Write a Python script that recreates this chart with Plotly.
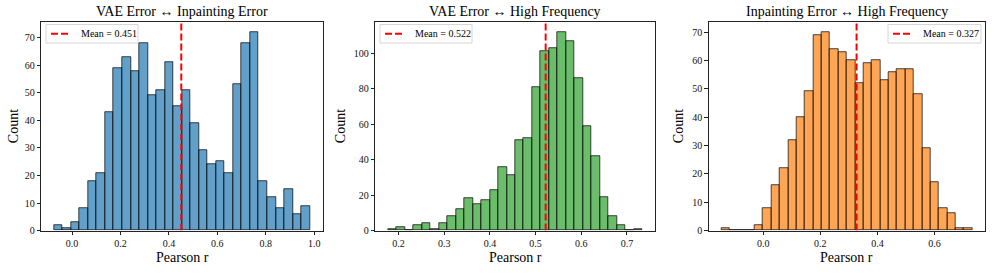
import plotly.graph_objects as go

# ---------------- data ----------------
titles = ["VAE Error \u2194 Inpainting Error",
          "VAE Error \u2194 High Frequency",
          "Inpainting Error \u2194 High Frequency"]

vae_inp_counts = [2, 1, 3, 8, 18, 21, 43, 59, 63, 58, 68, 49, 51, 61, 45,
                  51, 39, 29, 24, 25, 21, 53, 68, 72, 18, 12, 8, 15, 6, 9]
vae_inp_start = -0.074
vae_inp_binwidth = 0.0352
vae_inp_mean = 0.451

vae_hf_counts = [1, 2, 0, 3, 4, 1, 4, 8, 12, 18, 15, 17, 23, 36, 31,
                 51, 52, 81, 101, 103, 112, 107, 86, 59, 42, 19, 8, 3, 0, 1]
vae_hf_start = 0.177
vae_hf_binwidth = 0.01857
vae_hf_mean = 0.522

inp_hf_counts = [1, 0, 0, 0, 2, 8, 16, 22, 32, 40, 49, 69, 70, 64, 63,
                 60, 52, 59, 60, 53, 56, 57, 57, 48, 29, 17, 8, 6, 1, 1]
inp_hf_start = -0.147
inp_hf_binwidth = 0.02933
inp_hf_mean = 0.327

x_tickvals = [[0.0, 0.2, 0.4, 0.6, 0.8, 1.0],
              [0.2, 0.3, 0.4, 0.5, 0.6, 0.7],
              [0.0, 0.2, 0.4, 0.6]]
y_tickvals = [[0, 10, 20, 30, 40, 50, 60, 70],
              [0, 20, 40, 60, 80, 100],
              [0, 10, 20, 30, 40, 50, 60, 70]]

# ---------------- styling ----------------
W, H = 996, 277
FONT = "Liberation Serif"
fills = ["rgba(31,119,180,0.7)", "rgba(44,160,44,0.7)", "rgba(255,127,14,0.7)"]
edge = "rgba(0,0,0,0.7)"
DASH = "7px,3px"

# plot areas in pixels (left, right)
px_x = [(41.3, 322.7), (375.3, 655.3), (708.7, 985.0)]
px_top, px_bottom = 22.7, 235.7

# legend boxes in pixels (left, right, top, bottom)
legend_boxes = [(46, 138, 25, 44), (380, 472, 25, 44), (888, 981, 25, 44)]

panels = [
    (vae_inp_counts, vae_inp_start, vae_inp_binwidth, vae_inp_mean),
    (vae_hf_counts, vae_hf_start, vae_hf_binwidth, vae_hf_mean),
    (inp_hf_counts, inp_hf_start, inp_hf_binwidth, inp_hf_mean),
]

fig = go.Figure()
annotations = []
shapes = []


def px(xp):
    return xp / W


def py(yp):
    return 1 - yp / H


for i, (counts, start, bw, mean) in enumerate(panels):
    n = i + 1
    xa = "x" if n == 1 else f"x{n}"
    ya = "y" if n == 1 else f"y{n}"
    centers = [start + (k + 0.5) * bw for k in range(len(counts))]
    end = start + len(counts) * bw
    span = end - start
    xr = [start - 0.05 * span, end + 0.05 * span]
    ytop = max(counts) * 1.05

    fig.add_trace(go.Bar(
        x=centers, y=counts, width=[bw] * len(counts),
        marker=dict(color=fills[i], line=dict(color=edge, width=1)),
        xaxis=xa, yaxis=ya, showlegend=False, hoverinfo="x+y"))
    fig.add_trace(go.Scatter(
        x=[mean, mean], y=[0, ytop], mode="lines",
        line=dict(color="red", width=2, dash=DASH),
        name=f"Mean = {mean:.3f}", xaxis=xa, yaxis=ya, showlegend=False))

    l, r = px_x[i]
    dom_x = [l / W, r / W]
    dom_y = [1 - px_bottom / H, 1 - px_top / H]
    axis_common = dict(
        showline=True, linecolor="#222", linewidth=1, mirror=True,
        ticks="outside", ticklen=3.5, tickwidth=1, tickcolor="#222",
        showgrid=False, zeroline=False,
        tickfont=dict(family=FONT, size=10, color="#111"))
    fig.update_layout({
        ("xaxis" if n == 1 else f"xaxis{n}"): dict(
            domain=dom_x, range=xr, anchor=ya, tickvals=x_tickvals[i],
            tickformat=".1f", **axis_common),
        ("yaxis" if n == 1 else f"yaxis{n}"): dict(
            domain=dom_y, range=[0, ytop], anchor=xa, tickvals=y_tickvals[i],
            **axis_common),
    })

    # legend (box, dashed sample, text)
    bl, br, bt, bb = legend_boxes[i]
    shapes.append(dict(type="rect", xref="paper", yref="paper",
                       x0=px(bl), x1=px(br), y0=py(bb), y1=py(bt),
                       fillcolor="rgba(255,255,255,0.8)",
                       line=dict(color="#d6d6d6", width=1), layer="above"))
    ymid = (bt + bb) / 2
    shapes.append(dict(type="line", xref="paper", yref="paper",
                       x0=px(bl + 5), x1=px(bl + 23), y0=py(ymid), y1=py(ymid),
                       line=dict(color="red", width=2, dash=DASH),
                       layer="above"))
    annotations.append(dict(text=f"Mean = {mean:.3f}", x=px(bl + 33), y=py(ymid),
                            xref="paper", yref="paper", showarrow=False,
                            xanchor="left", yanchor="middle",
                            font=dict(family=FONT, size=10, color="black")))

    cx = (l + r) / 2 / W
    annotations.append(dict(text=titles[i], x=cx, y=py(12), xref="paper",
                            yref="paper", showarrow=False,
                            font=dict(family=FONT, size=14, color="black"),
                            xanchor="center", yanchor="middle"))
    annotations.append(dict(text="Pearson r", x=cx, y=py(263), xref="paper",
                            yref="paper", showarrow=False,
                            font=dict(family=FONT, size=14, color="black"),
                            xanchor="center", yanchor="middle"))
    ylab_x = [13, 340, 678][i]
    annotations.append(dict(text="Count", x=px(ylab_x), y=py(129), xref="paper",
                            yref="paper", showarrow=False, textangle=-90,
                            font=dict(family=FONT, size=14, color="black"),
                            xanchor="center", yanchor="middle"))

fig.update_layout(
    width=W, height=H, margin=dict(l=0, r=0, t=0, b=0),
    paper_bgcolor="white", plot_bgcolor="white",
    bargap=0, barmode="overlay", showlegend=False,
    annotations=annotations, shapes=shapes,
    font=dict(family=FONT),
)

fig.write_html("out.html",
               config={"displayModeBar": False},
               post_script="document.body.style.margin='0px';"
                           "document.body.style.overflow='hidden';")
